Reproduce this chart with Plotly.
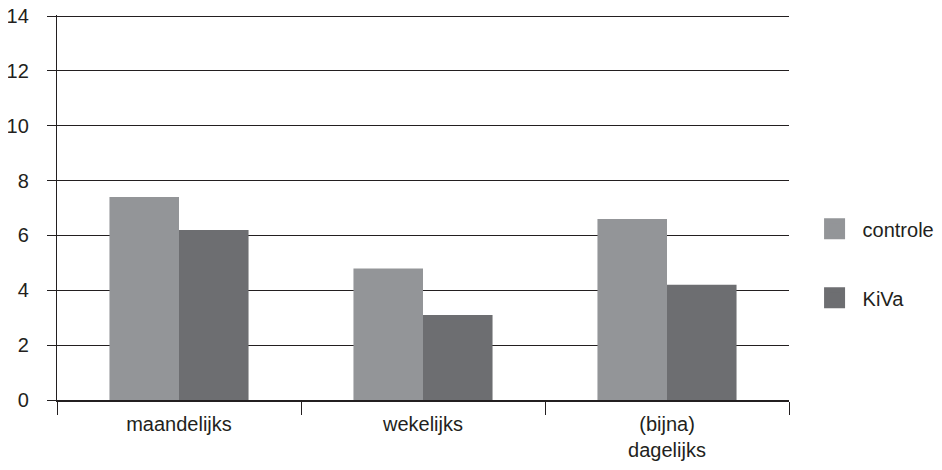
import plotly.graph_objects as go

categories = ["maandelijks", "wekelijks", "(bijna)<br>dagelijks"]
controle = [7.4, 4.8, 6.6]
kiva = [6.2, 3.1, 4.2]
y_ticks = [0, 2, 4, 6, 8, 10, 12, 14]

FONT = "Liberation Sans, Arial, Helvetica, sans-serif"
INK = "#231f20"
C_CONTROLE = "#939598"
C_KIVA = "#6d6e71"
FS = 20

fig = go.Figure()
fig.add_trace(go.Bar(name="controle", x=categories, y=controle,
                     marker=dict(color=C_CONTROLE, line=dict(width=0)),
                     showlegend=False))
fig.add_trace(go.Bar(name="KiVa", x=categories, y=kiva,
                     marker=dict(color=C_KIVA, line=dict(width=0)),
                     showlegend=False))
# legend entries (larger square swatches)
for name, col, grp in [("controle", C_CONTROLE, "a"), ("KiVa", C_KIVA, "b")]:
    fig.add_trace(go.Scatter(name=name, x=[None], y=[None], mode="markers",
                             marker=dict(symbol="square", size=16, color=col,
                                         line=dict(width=5, color=col)),
                             legendgroup=grp, showlegend=True,
                             hoverinfo="skip"))

fig.update_layout(
    width=934, height=462,
    margin=dict(l=49, r=153, t=7, b=70, autoexpand=False),
    paper_bgcolor="white", plot_bgcolor="white",
    barmode="group", bargap=0.43, bargroupgap=0,
    font=dict(family=FONT, size=FS, color=INK),
    showlegend=True,
    legend=dict(x=1.024, xanchor="left", y=0.355, yanchor="middle",
                xref="paper", yref="paper",
                font=dict(size=FS, color=INK),
                tracegroupgap=40, itemsizing="trace", itemwidth=46,
                bgcolor="rgba(0,0,0,0)"),
)
fig.update_xaxes(
    type="category", tickson="boundaries", ticks="outside", ticklen=13,
    tickwidth=1.3, tickcolor=INK, showline=True, linecolor=INK, linewidth=1.5,
    showgrid=False, tickfont=dict(size=FS, color=INK), ticklabelstandoff=5,
    automargin=False, fixedrange=True,
)
fig.update_yaxes(
    range=[0, 14.04], tickvals=y_ticks, ticks="outside", ticklen=9,
    tickwidth=1.3, tickcolor=INK, showline=True, linecolor=INK, linewidth=1.3,
    showgrid=True, gridcolor=INK, gridwidth=1.3, zeroline=False,
    tickfont=dict(size=FS, color=INK), ticklabelstandoff=14,
    ticklabeloverflow="allow",
    automargin=False, fixedrange=True,
)

fig.write_html("out.html")
